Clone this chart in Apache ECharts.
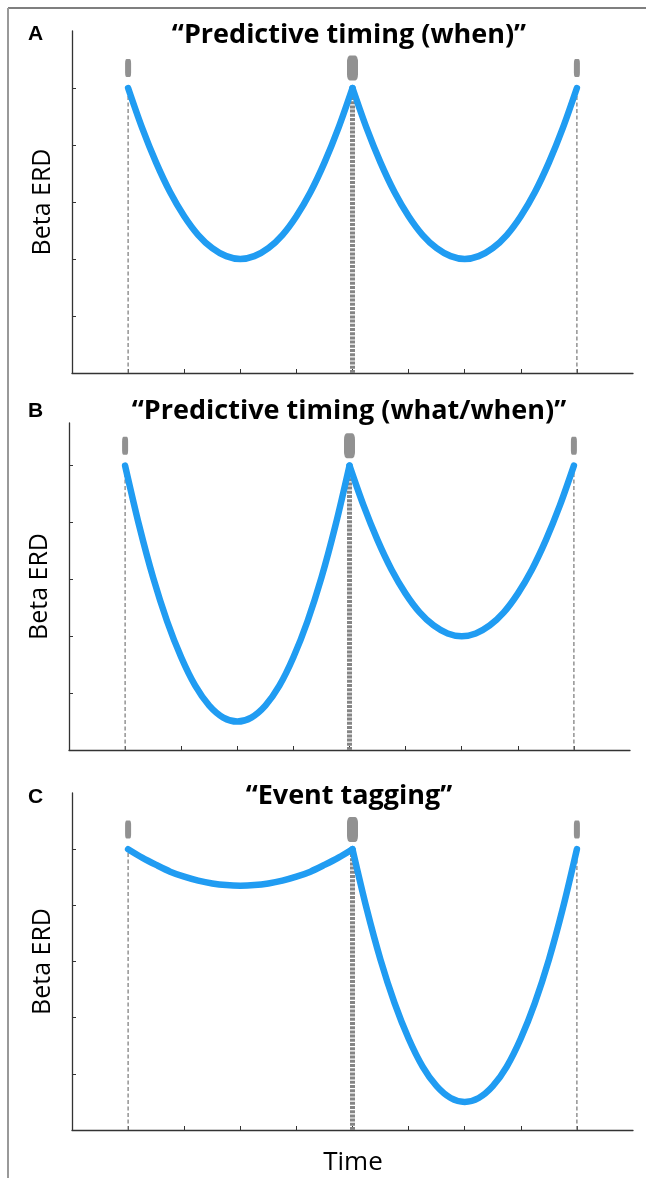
<!DOCTYPE html>
<html>
<head>
<meta charset="utf-8">
<script src="https://cdn.jsdelivr.net/npm/echarts@6/dist/echarts.min.js"></script>
<style>
  html, body { margin: 0; padding: 0; background: #fff; }
  #main { width: 646px; height: 1178px; }
</style>
</head>
<body>
<div id="main"></div>
<script>
// time positions (x axis units, 0..10)
var leftTimes = [1, 1.25, 1.5, 1.75, 2, 2.25, 2.5, 2.75, 3, 3.25, 3.5, 3.75, 4, 4.25, 4.5, 4.75, 5];
var rightTimes = [5, 5.25, 5.5, 5.75, 6, 6.25, 6.5, 6.75, 7, 7.25, 7.5, 7.75, 8, 8.25, 8.5, 8.75, 9];
var eventTimes = [1, 5, 9];
var tickTimes = [1, 2, 3, 4, 5, 6, 7, 8, 9];
var tickErd = [1, 2, 3, 4, 5];

// beta ERD
var aLeft = [5, 4.30, 3.69, 3.17, 2.75, 2.42, 2.19, 2.05, 2, 2.05, 2.19, 2.42, 2.75, 3.17, 3.69, 4.30, 5];
var aRight = [5, 4.30, 3.69, 3.17, 2.75, 2.42, 2.19, 2.05, 2, 2.05, 2.19, 2.42, 2.75, 3.17, 3.69, 4.30, 5];
var bLeft = [5, 3.95, 3.03, 2.26, 1.63, 1.13, 0.78, 0.57, 0.5, 0.57, 0.78, 1.13, 1.63, 2.26, 3.03, 3.95, 5];
var bRight = [5, 4.30, 3.69, 3.17, 2.75, 2.42, 2.19, 2.05, 2, 2.05, 2.19, 2.42, 2.75, 3.17, 3.69, 4.30, 5];
var cLeft = [5, 4.85, 4.72, 4.60, 4.51, 4.44, 4.39, 4.36, 4.35, 4.36, 4.39, 4.44, 4.51, 4.60, 4.72, 4.85, 5];
var cRight = [5, 3.95, 3.03, 2.26, 1.63, 1.13, 0.78, 0.57, 0.5, 0.57, 0.78, 1.13, 1.63, 2.26, 3.03, 3.95, 5];

var peakErd = 5;
var markerErd = 5.35;

var panelTitles = ['\u201cPredictive timing (when)\u201d', '\u201cPredictive timing (what/when)\u201d', '\u201cEvent tagging\u201d'];
var panelLetters = ['A', 'B', 'C'];

var myChart = echarts.init(document.getElementById('main'));

var pair = function (xs, ys) {
    return xs.map(function (x, i) { return [x, ys[i]]; });
};

var grids = [
    { left: 72, top: 31, width: 561, height: 342 },
    { left: 69, top: 423, width: 561, height: 327 },
    { left: 72, top: 793, width: 561, height: 337 }
];
var yMax = [6, 5.75, 6];
var curves = [[aLeft, aRight], [bLeft, bRight], [cLeft, cRight]];

var axisLine = { lineStyle: { color: '#333', width: 1.3 } };

var xAxes = [], yAxes = [], series = [];
grids.forEach(function (g, k) {
    xAxes.push({
        gridIndex: k, type: 'value', min: 0, max: 10,
        axisLine: axisLine,
        axisTick: { show: true, inside: true, length: 4, customValues: tickTimes, lineStyle: { color: '#333' } },
        axisLabel: { show: false },
        splitLine: { show: false }
    });
    yAxes.push({
        gridIndex: k, type: 'value', min: 0, max: yMax[k],
        name: 'Beta ERD', nameLocation: 'middle', nameGap: 17,
        nameTextStyle: { fontFamily: 'Open Sans', fontSize: 25, color: '#000' },
        axisLine: Object.assign({ show: true }, axisLine),
        axisTick: { show: true, inside: true, length: 4, customValues: tickErd, lineStyle: { color: '#333' } },
        axisLabel: { show: false },
        splitLine: { show: false }
    });

    //事件的虚线
    eventTimes.forEach(function (t, i) {
        var mid = i === 1;
        series.push({
            type: 'line', xAxisIndex: k, yAxisIndex: k,
            data: [[t, 0], [t, peakErd]],
            symbol: 'none', silent: true, z: 1,
            lineStyle: mid ? { color: '#858585', width: 5, type: [3, 1.2] }
                           : { color: '#777', width: 1.2, type: [4, 2.5] }
        });
    });

    //事件标记
    series.push({
        type: 'scatter', xAxisIndex: k, yAxisIndex: k,
        data: eventTimes.map(function (t, i) {
            return { value: [t, markerErd], symbolSize: i === 1 ? [11, 25] : [6, 18] };
        }),
        symbol: 'roundRect',
        itemStyle: { color: '#767676' },
        silent: true
    });

    //蓝色曲线
    [leftTimes, rightTimes].forEach(function (xs, j) {
        series.push({
            type: 'line', xAxisIndex: k, yAxisIndex: k,
            data: pair(xs, curves[k][j]),
            smooth: 0.3, symbol: 'none', z: 3,
            lineStyle: { color: '#209cf2', width: 6.5, cap: 'round', join: 'round' }
        });
    });
});

var letterBase = [45, 422, 808];
var titleMid = [35, 411, 796];
var graphics = [
    { type: 'line', shape: { x1: 8, y1: 8, x2: 646, y2: 8 }, style: { stroke: '#555', lineWidth: 1.5 } },
    { type: 'line', shape: { x1: 8, y1: 8, x2: 8, y2: 1178 }, style: { stroke: '#999', lineWidth: 2 } },
    { type: 'text', x: 353, y: 1163, style: { text: 'Time', fontFamily: 'Open Sans', fontSize: 26, fill: '#000', align: 'center', verticalAlign: 'middle' } }
];
panelLetters.forEach(function (l, k) {
    graphics.push({ type: 'text', x: 28, y: letterBase[k], style: { text: l, fontFamily: 'Liberation Sans', fontWeight: 'bold', fontSize: 21, fill: '#000', align: 'left', verticalAlign: 'bottom' } });
    graphics.push({ type: 'text', x: 349, y: titleMid[k], style: { text: panelTitles[k], fontFamily: 'Open Sans', fontWeight: 'bold', fontSize: 27, fill: '#000', align: 'center', verticalAlign: 'middle' } });
});

var option = {
    animation: false,
    backgroundColor: '#fff',
    grid: grids,
    xAxis: xAxes,
    yAxis: yAxes,
    series: series,
    graphic: graphics
};

myChart.setOption(option);
</script>
</body>
</html>
